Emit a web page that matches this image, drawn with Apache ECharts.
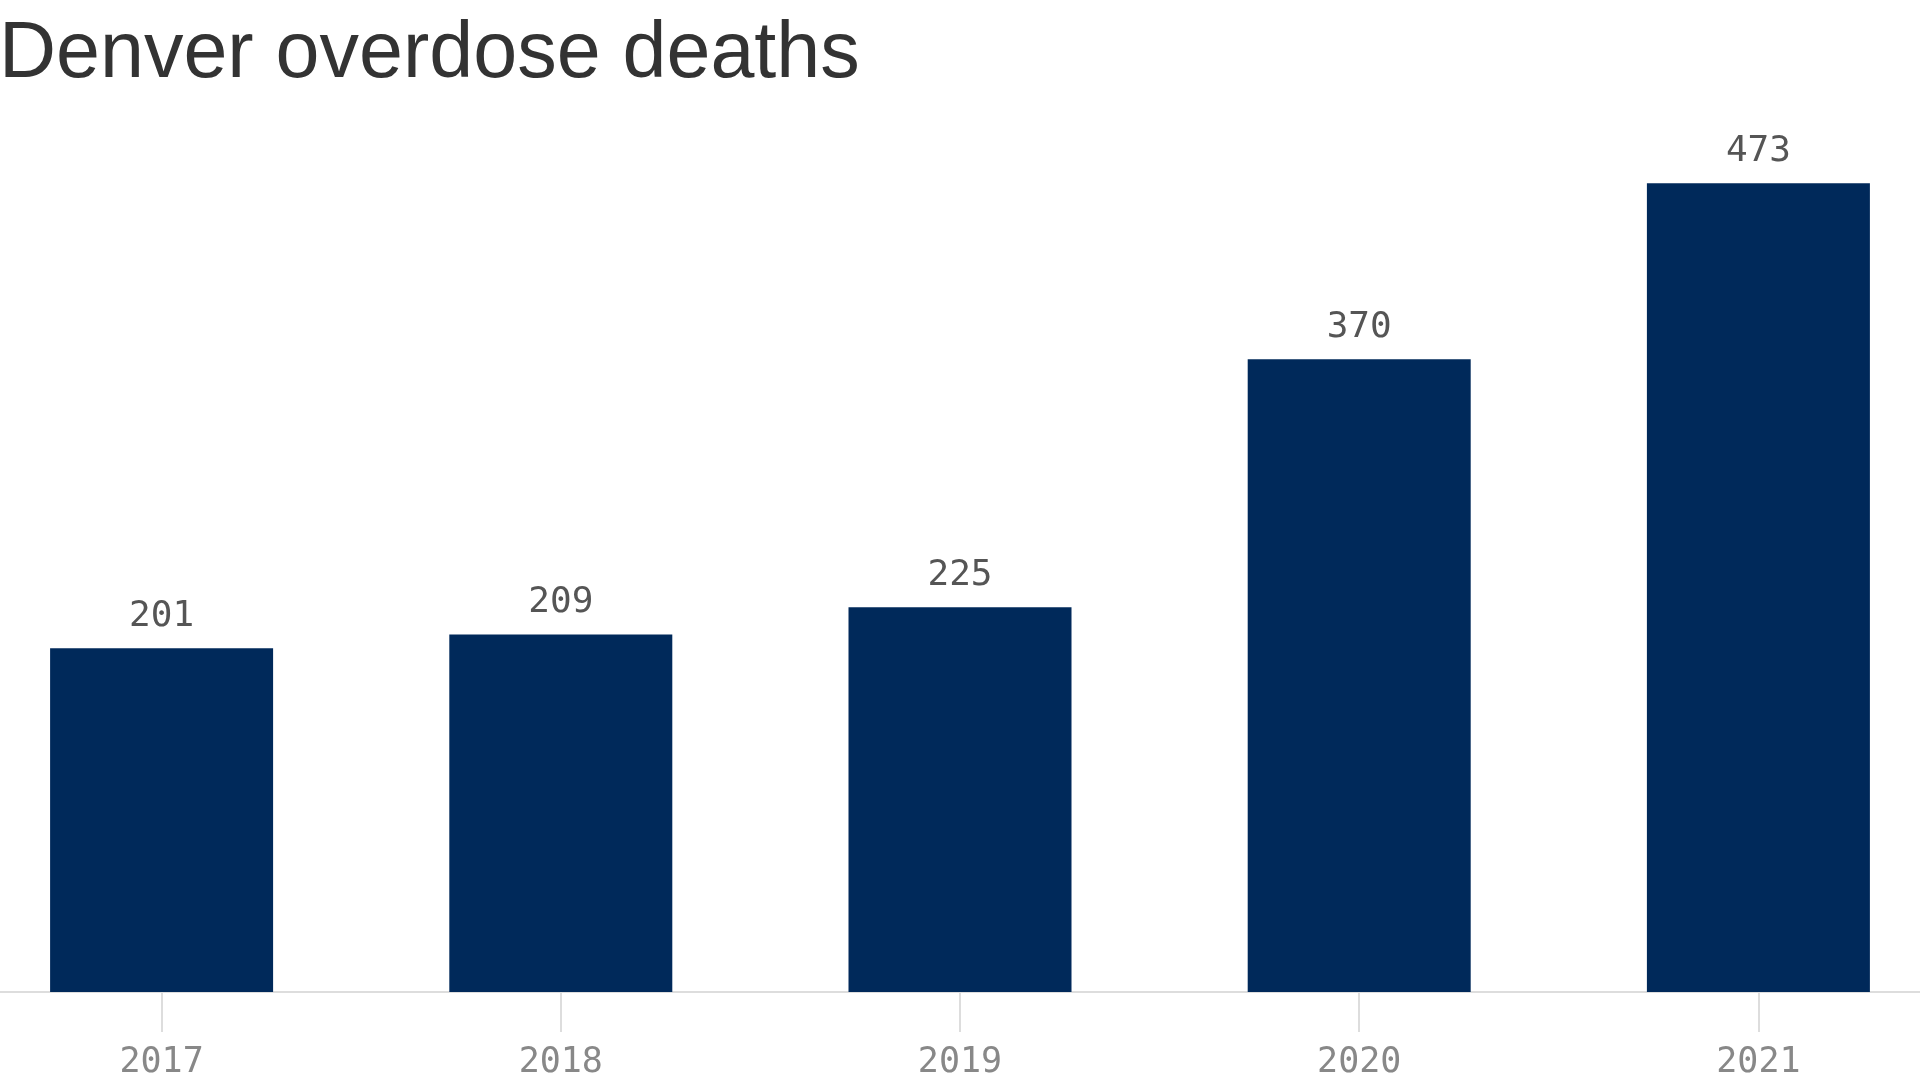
<!DOCTYPE html>
<html>
<head>
<meta charset="utf-8">
<script src="https://cdn.jsdelivr.net/npm/echarts@6/dist/echarts.min.js"></script>
<style>
html,body{margin:0;padding:0;background:#fff;overflow:hidden;width:1920px;height:1080px;}
#chart{position:absolute;left:-38px;top:0;width:1996px;height:1080px;}
</style>
</head>
<body>
<div id="chart"></div>
<script>
const titleText = "Denver overdose deaths";
const years = ["2017", "2018", "2019", "2020", "2021"];
const deaths = [201, 209, 225, 370, 473];

const chart = echarts.init(document.getElementById('chart'));
chart.setOption({
  backgroundColor: '#ffffff',
  animation: false,
  title: {
    text: titleText,
    left: 32,
    top: 11,
    textStyle: {
      fontFamily: 'Liberation Sans, Arial, sans-serif',
      fontSize: 79,
      fontWeight: 'normal',
      color: '#333333'
    }
  },
  grid: {
    left: 0,
    right: 0,
    top: 137,
    bottom: 88,
    containLabel: false
  },
  xAxis: {
    type: 'category',
    data: years,
    axisLine: { show: true, lineStyle: { color: '#dddddd', width: 2 } },
    axisTick: { show: true, alignWithLabel: true, length: 40, lineStyle: { color: '#dddddd', width: 2 } },
    axisLabel: {
      color: '#888888',
      fontFamily: 'DejaVu Sans Mono, monospace',
      fontSize: 35,
      margin: 53
    }
  },
  yAxis: {
    type: 'value',
    min: 0,
    max: 500,
    show: false,
    splitLine: { show: false }
  },
  series: [{
    type: 'bar',
    data: deaths,
    barWidth: 223,
    itemStyle: { color: '#00295a' },
    label: {
      show: true,
      position: 'top',
      distance: 14,
      color: '#555555',
      fontFamily: 'DejaVu Sans Mono, monospace',
      fontSize: 36
    }
  }]
});
</script>
</body>
</html>
